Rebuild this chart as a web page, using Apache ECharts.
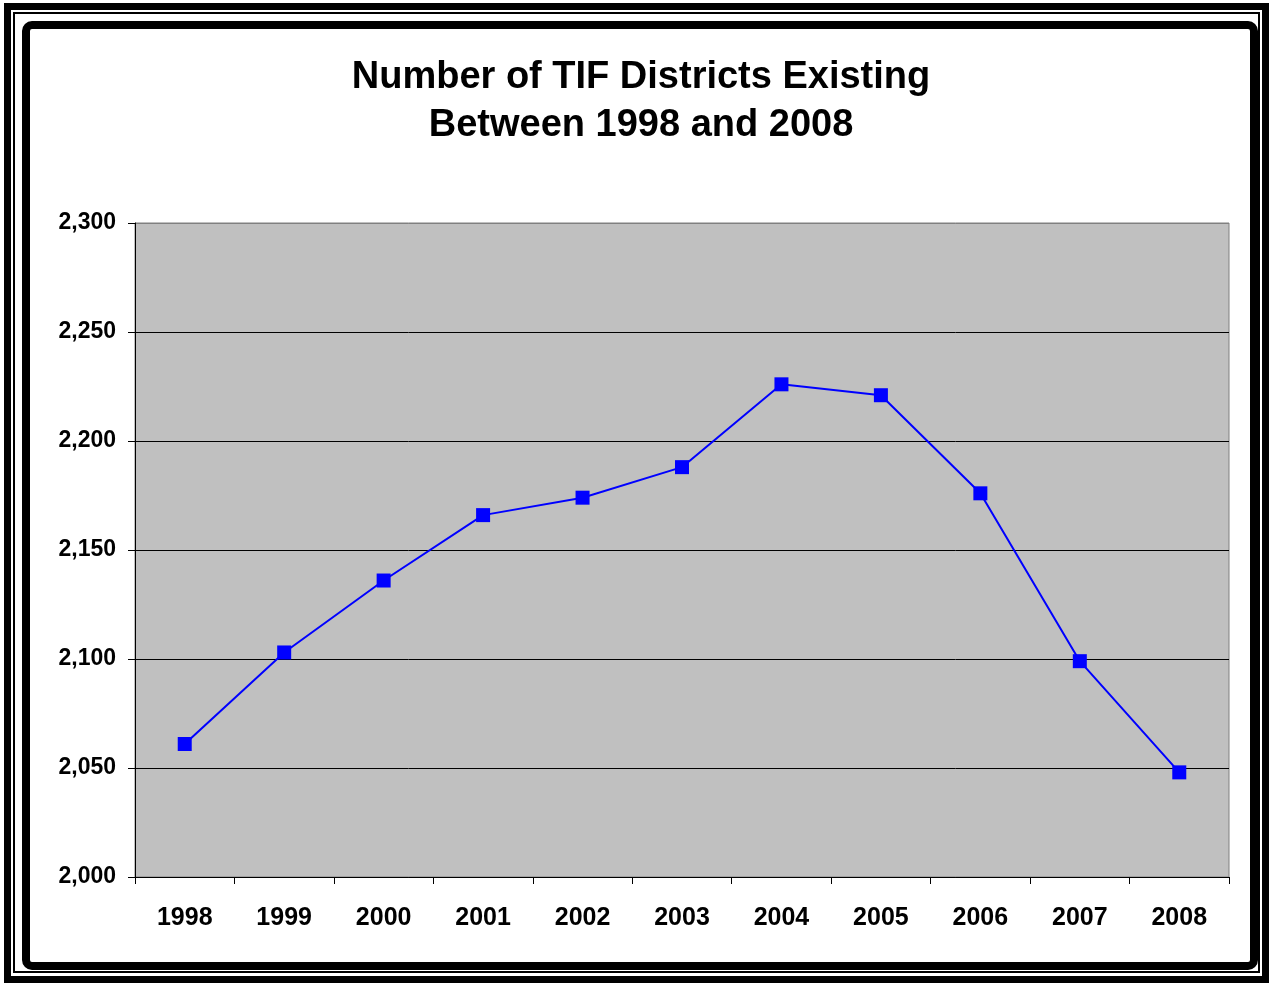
<!DOCTYPE html>
<html>
<head>
<meta charset="utf-8">
<script src="https://cdn.jsdelivr.net/npm/echarts@6/dist/echarts.min.js"></script>
<style>
html,body{margin:0;padding:0;background:#fff;}
#chart{width:1273px;height:985px;}
</style>
</head>
<body>
<div id="chart"></div>
<script>
const years = ['1998','1999','2000','2001','2002','2003','2004','2005','2006','2007','2008'];
const districts = [2061,2103,2136,2166,2174,2188,2226,2221,2176,2099,2048];
const titleLines = ['Number of TIF Districts Existing','Between 1998 and 2008'];

const FONT = 'Liberation Sans, Arial, sans-serif';
const chart = echarts.init(document.getElementById('chart'), null, {renderer:'canvas'});
chart.setOption({
  animation:false,
  backgroundColor:'#ffffff',
  graphic:[
    {type:'rect', shape:{x:7.5,y:6.5,width:1258,height:973}, style:{fill:null,stroke:'#000',lineWidth:7}, silent:true},
    {type:'rect', shape:{x:14,y:13,width:1245,height:959}, style:{fill:null,stroke:'#000',lineWidth:2}, silent:true},
    {type:'rect', shape:{x:26,y:25,width:1228,height:941,r:6}, style:{fill:null,stroke:'#000',lineWidth:8}, silent:true},
    {type:'text', x:641, y:78, style:{text:titleLines[0], textAlign:'center', textVerticalAlign:'middle', font:'bold 38px ' + FONT, fill:'#000'}, silent:true},
    {type:'text', x:641, y:126, style:{text:titleLines[1], textAlign:'center', textVerticalAlign:'middle', font:'bold 38px ' + FONT, fill:'#000'}, silent:true}
  ],
  grid:{left:135, right:44, top:223, bottom:108, show:true, backgroundColor:'#C0C0C0', borderColor:'#808080', borderWidth:1},
  xAxis:{
    type:'category', data:years, boundaryGap:true,
    axisLine:{show:true, lineStyle:{color:'#000', width:1}},
    axisTick:{show:true, length:7, inside:false, lineStyle:{color:'#000'}},
    axisLabel:{margin:29, fontFamily:FONT, fontWeight:'bold', fontSize:25, color:'#000'}
  },
  yAxis:{
    type:'value', min:2000, max:2300, interval:50,
    axisLine:{show:true, lineStyle:{color:'#000'}},
    axisTick:{show:true, length:7, lineStyle:{color:'#000'}},
    splitLine:{show:true, lineStyle:{color:['#000','#000','#000','#000','#000','#000','#808080'], width:1}},
    axisLabel:{margin:19, fontFamily:FONT, fontWeight:'bold', fontSize:23, color:'#000',
      formatter: v => v.toLocaleString('en-US')}
  },
  series:[{
    type:'line', data:districts,
    symbol:'rect', symbolSize:14,
    lineStyle:{color:'#0000FF', width:2},
    itemStyle:{color:'#0000FF'}
  }]
});
</script>
</body>
</html>
